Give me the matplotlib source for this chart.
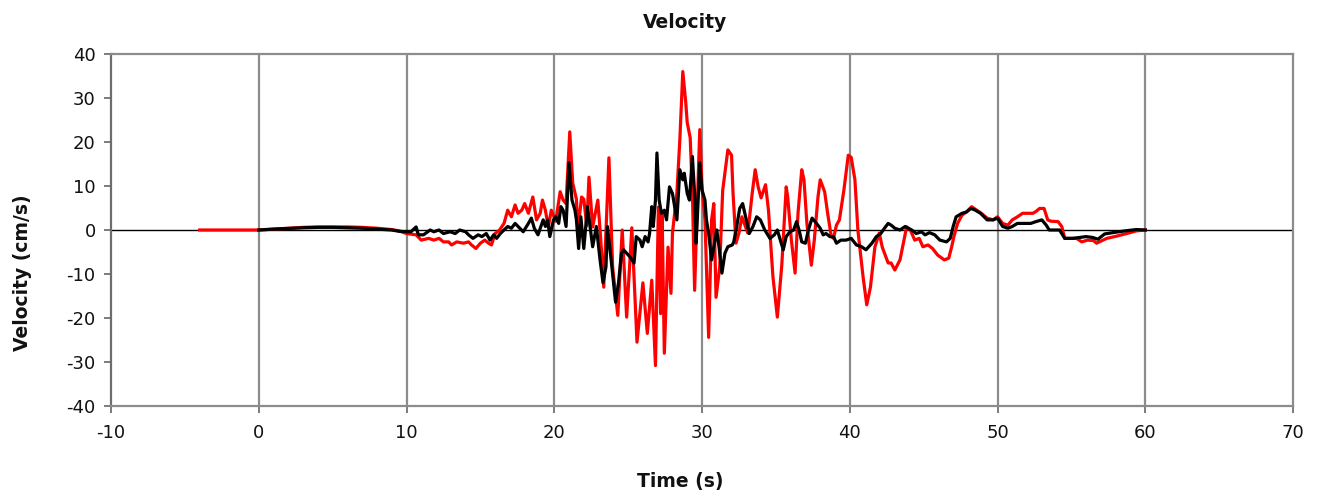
import matplotlib
matplotlib.use("Agg")
import matplotlib.pyplot as plt

plt.rcParams["axes.unicode_minus"] = False

# red trace (time s, velocity cm/s)
t_red = [-4, 0, 1, 2, 3, 4, 5, 6, 7, 8, 9, 9.5, 10, 10.65, 11.0, 11.5, 11.85, 12.2,
         12.5, 12.85, 13.05, 13.4, 13.85, 14.2, 14.4, 14.7, 15.0, 15.3, 15.55, 15.75,
         16.0, 16.3, 16.6, 16.85, 17.1, 17.35, 17.55, 17.8, 18.0, 18.25, 18.55, 18.8,
         19.05, 19.2, 19.4, 19.6, 19.8, 20.1, 20.4, 20.6, 20.8, 21.05, 21.25, 21.5,
         21.6, 21.85, 22.0, 22.2, 22.35, 22.6, 22.95, 23.15, 23.35, 23.7, 23.95, 24.3,
         24.6, 24.9, 25.25, 25.6, 26.0, 26.3, 26.6, 26.85, 27.05, 27.2, 27.3, 27.45,
         27.7, 27.9, 28.0, 28.3, 28.5, 28.7, 28.9, 29.0, 29.2, 29.35, 29.5, 29.65,
         29.85, 30.0, 30.2, 30.45, 30.65, 30.8, 30.95, 31.2, 31.4, 31.75, 32.0, 32.1,
         32.3, 32.5, 32.7, 32.95, 33.1, 33.4, 33.6, 33.8, 34.0, 34.3, 34.5, 34.8,
         35.1, 35.4, 35.7, 35.8, 36.05, 36.3, 36.5, 36.75, 36.9, 37.1, 37.4, 37.6,
         37.85, 38.0, 38.3, 38.5, 38.75, 38.9, 39.1, 39.3, 39.6, 39.9, 40.1, 40.35,
         40.55, 40.9, 41.15, 41.4, 41.7, 42.0, 42.2, 42.6, 42.8, 43.05, 43.4, 43.85,
         44.1, 44.4, 44.7, 44.95, 45.3, 45.6, 45.95, 46.4, 46.7, 46.9, 47.05, 47.3,
         47.6, 47.9, 48.25, 48.6, 48.9, 49.3, 49.7, 50.0, 50.35, 50.7, 51.0, 51.35,
         51.7, 52.0, 52.4, 52.6, 52.85, 53.15, 53.4, 53.6, 54.1, 54.35, 54.55, 54.9,
         55.35, 55.7, 56.1, 56.5, 56.7, 56.95, 57.4, 58.05, 58.75, 59.4, 60.0]
v_red = [0, 0, 0.2, 0.4, 0.6, 0.7, 0.7, 0.7, 0.6, 0.4, 0.1, -0.2, -0.8, -1.1, -2.3, -1.9, -2.3, -1.9,
         -2.7, -2.7, -3.4, -2.7, -3.0, -2.7, -3.4, -4.2, -3.0, -2.3, -3.0, -3.4,
         -0.8, 0, 1.5, 4.5, 3.0, 5.7, 3.8, 4.5, 6.0, 3.8, 7.5, 2.3,
         3.8, 6.8, 4.5, 0.7, 4.5, 2.0, 8.7, 6.8, 6.0, 22.3, 10.7, 7.0,
         0, 7.5, 7.0, 1.0, 12.0, 0.7, 6.8, -2.3, -13.0, 16.4, -8.4, -19.4,
         0, -19.8, 0.5, -25.5, -12.0, -23.5, -11.4, -30.8, 5.2, -19.0, 3.9, -28.0,
         -3.9, -14.4, -0.7, 8.4, 20.5, 36.0, 29.0, 24.4, 21.0, 8.4, -13.7, 2.3,
         22.8, 9.8, 2.3, -24.4, 2.3, 6.0, -15.3, -8.4, 9.0, 18.2, 17.0, 8.4,
         -3.0, -0.7, 3.0, 0.7, -0.7, 8.4, 13.7, 9.8, 7.3, 10.3, 4.5, -10.6,
         -19.8, -8.0, 9.8, 7.5, -2.3, -9.8, 3.9, 13.7, 11.5, 1.5, -8.0, -2.3,
         7.5, 11.4, 8.7, 3.9, -1.5, -1.9, 1.1, 2.3, 9.0, 17.0, 16.5, 11.4,
         0, -10.6, -17.0, -13.0, -3.9, -0.7, -3.9, -7.5, -7.5, -9.1, -6.8, 0.7,
         0, -2.3, -1.9, -3.8, -3.4, -4.2, -5.7, -6.8, -6.4, -3.8, -1.5, 1.5,
         3.4, 4.1, 5.3, 4.5, 3.8, 2.7, 2.3, 3.0, 1.5, 1.1, 2.3, 3.0,
         3.8, 3.8, 3.8, 4.2, 4.9, 4.9, 2.3, 2.0, 1.9, 0.8, -1.9, -1.9,
         -1.9, -2.7, -2.3, -2.4, -3.0, -2.6, -1.9, -1.4, -0.8, -0.2, 0]

# black trace
t_blk = [0, 1, 2, 3, 4, 5, 6, 7, 8, 8.5, 9, 9.5, 10, 10.3, 10.65, 10.8, 11.15, 11.6,
         11.85, 12.2, 12.5, 12.95, 13.3, 13.6, 14.0, 14.2, 14.5, 14.85, 15.1, 15.4,
         15.65, 15.9, 16.1, 16.35, 16.6, 16.85, 17.1, 17.35, 17.55, 17.9, 18.25, 18.45,
         18.65, 18.9, 19.25, 19.4, 19.55, 19.7, 19.95, 20.1, 20.3, 20.45, 20.6, 20.8,
         21.0, 21.2, 21.4, 21.5, 21.65, 21.8, 22.0, 22.25, 22.45, 22.6, 22.85, 23.1,
         23.3, 23.5, 23.6, 23.85, 24.15, 24.35, 24.55, 24.7, 24.9, 25.1, 25.4, 25.55,
         25.8, 25.95, 26.15, 26.35, 26.45, 26.6, 26.7, 26.85, 26.95, 27.1, 27.25, 27.45,
         27.6, 27.8, 28.0, 28.3, 28.5, 28.7, 28.8, 29.0, 29.15, 29.35, 29.5, 29.6,
         29.7, 29.85, 30.0, 30.2, 30.3, 30.45, 30.65, 30.8, 31.0, 31.15, 31.35, 31.55,
         31.75, 32.05, 32.15, 32.35, 32.55, 32.75, 33.0, 33.2, 33.45, 33.7, 33.95, 34.25,
         34.6, 34.9, 35.1, 35.3, 35.5, 35.7, 35.95, 36.2, 36.4, 36.6, 36.75, 37.0,
         37.2, 37.45, 37.75, 38.0, 38.2, 38.4, 38.65, 38.9, 39.1, 39.4, 39.75, 40.1,
         40.45, 40.8, 41.1, 41.5, 41.8, 42.1, 42.35, 42.6, 42.8, 43.05, 43.4, 43.75,
         44.2, 44.5, 44.85, 45.1, 45.4, 45.75, 46.1, 46.55, 46.8, 47.0, 47.2, 47.6,
         47.9, 48.2, 48.5, 48.85, 49.3, 49.7, 50.0, 50.35, 50.7, 51.0, 51.35, 51.8,
         52.25, 52.6, 53.0, 53.3, 53.5, 54.2, 54.55, 55.1, 55.55, 56.0, 56.45, 56.8,
         57.25, 57.8, 58.75, 59.4, 60.0]
v_blk = [0, 0.2, 0.35, 0.5, 0.6, 0.6, 0.5, 0.4, 0.2, 0.1, 0, -0.3, -0.4, -0.4, 0.7, -1.1, -1.1, 0,
         -0.4, 0, -0.8, -0.4, -0.8, 0, -0.4, -1.1, -1.9, -1.1, -1.5, -0.8,
         -2.3, -1.1, -1.9, -0.8, 0, 0.8, 0.4, 1.5, 0.8, -0.4, 1.5, 2.7,
         0.4, -1.1, 2.3, 0.8, 2.3, -1.5, 2.3, 3.0, 1.5, 5.3, 4.5, 0.8,
         15.3, 6.8, 4.5, 2.3, -4.2, 3.0, -4.2, 5.3, 0, -3.8, 0.8, -6.8,
         -12.0, -8.4, 0.8, -6.8, -16.4, -12.0, -5.3, -4.5, -5.3, -6.0, -7.5, -1.5,
         -2.3, -3.8, -1.5, -2.7, -0.8, 5.3, 0.8, 6.8, 17.5, 6.8, 3.8, 4.5,
         2.3, 9.8, 8.3, 2.3, 13.7, 11.4, 12.9, 8.3, 6.8, 16.7, 8.3, -3.0,
         3.9, 15.3, 9.1, 6.8, 2.3, -0.8, -6.8, -3.8, 0, -3.8, -9.8, -5.3,
         -3.8, -3.4, -2.7, 0.8, 4.9, 6.0, 2.3, -0.8, 0.8, 3.0, 2.3, 0,
         -1.9, -1.1, 0, -2.3, -4.5, -1.5, -0.4, 0, 1.9, -0.4, -2.7, -3.0,
         0, 2.7, 1.5, 0.4, -1.1, -0.8, -1.5, -1.5, -3.0, -2.3, -2.3, -1.9,
         -3.4, -3.8, -4.5, -3.0, -1.5, -0.8, 0.4, 1.5, 1.1, 0.4, 0, 0.8,
         0, -0.8, -0.4, -1.1, -0.6, -1.1, -2.3, -2.7, -1.9, 0.8, 3.0, 3.8,
         4.1, 4.9, 4.5, 3.8, 2.3, 2.3, 2.7, 0.8, 0.4, 0.8, 1.5, 1.5,
         1.5, 1.9, 2.3, 1.1, 0, 0, -1.9, -1.9, -1.7, -1.5, -1.7, -2.1,
         -0.9, -0.6, -0.15, 0.1, 0]

x_ticks = list(range(-10, 71, 10))
y_ticks = list(range(-40, 41, 10))

fig = plt.figure(figsize=(13.2, 4.97), dpi=100)
ax = fig.add_axes([111 / 1320, 1 - 406 / 497, (1293 - 111) / 1320, (406 - 54) / 497])

for xv in x_ticks[1:-1]:
    ax.axvline(xv, color="#8c8c8c", lw=1.6, zorder=1)
ax.axhline(0, color="black", lw=1.0, zorder=2)

ax.plot(t_red, v_red, color="#ff0000", lw=2.3, zorder=3, solid_joinstyle="round")
ax.plot(t_blk, v_blk, color="black", lw=2.3, zorder=4, solid_joinstyle="round")

ax.set_xlim(-10, 70)
ax.set_ylim(-40, 40)
ax.set_xticks(x_ticks)
ax.set_yticks(y_ticks)
ax.tick_params(axis="both", direction="out", length=5, width=1.2, color="#666",
               labelsize=13, labelcolor="#111")
ax.tick_params(axis="x", pad=8)
ax.tick_params(axis="y", pad=6)
for s in ("top", "right", "bottom"):
    ax.spines[s].set_color("#8c8c8c")
    ax.spines[s].set_linewidth(1.6)
ax.spines["left"].set_color("#6e6e6e")
ax.spines["left"].set_linewidth(1.6)

fig.text(685 / 1320, 1 - 22 / 497, "Velocity", ha="center", va="center",
         fontsize=13.5, fontweight="bold", color="#111")
fig.text(680 / 1320, 1 - 482 / 497, "Time (s)", ha="center", va="center",
         fontsize=13.5, fontweight="bold", color="#111")
fig.text(23 / 1320, 1 - 273 / 497, "Velocity (cm/s)", ha="center", va="center",
         rotation=90, fontsize=13.5, fontweight="bold", color="#111")

fig.savefig("out.png", dpi=100)
